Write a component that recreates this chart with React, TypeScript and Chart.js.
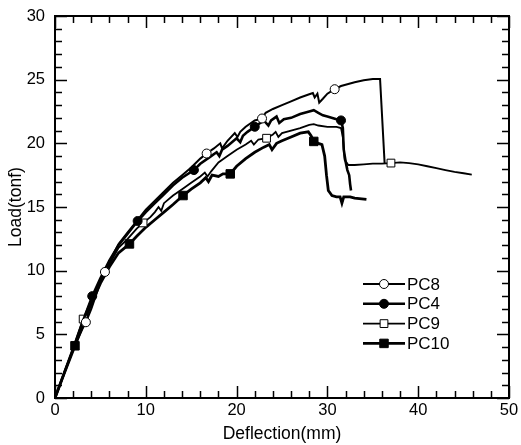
import React, { useEffect, useRef } from "react";
import { Chart, registerables } from "chart.js";

Chart.register(...registerables);

// ---- data ----
const seriesNames = ["PC8", "PC4", "PC9", "PC10"];

const pc8X = [0, 1, 2, 3, 3.4, 4, 5, 5.5, 6, 7, 8, 9, 10, 11, 12, 13, 14, 15, 16, 16.7, 17.5, 18.2, 18.4, 19, 19.8, 20.1, 20.4, 21, 22, 22.8, 23.2, 24, 25, 26, 27, 28, 28.4, 28.6, 28.9, 29.1, 29.5, 30, 30.8, 31.5, 32, 33, 34, 35, 35.8, 36.3];
const pc8Y = [0, 1.9, 3.8, 5.4, 5.95, 7, 9.1, 9.9, 10.7, 12.1, 13.0, 13.9, 14.8, 15.5, 16.2, 16.9, 17.5, 18.1, 18.8, 19.2, 19.6, 20.0, 19.6, 20.2, 20.8, 20.5, 20.9, 21.3, 21.8, 21.95, 22.4, 22.7, 23.0, 23.3, 23.6, 23.85, 23.95, 23.6, 23.9, 23.2, 23.5, 23.9, 24.25, 24.5, 24.6, 24.8, 24.95, 25.05, 25.05, 18.45];
const pc8Markers = [3.4, 5.5, 16.7, 22.8, 30.8];

const pc4X = [0, 1, 2, 3, 4.1, 5, 6, 7, 8, 9.1, 10, 11, 12, 13, 14, 15.3, 16, 17, 17.8, 18.1, 18.4, 19, 20, 20.4, 20.7, 21.2, 22, 23, 23.5, 23.8, 24.4, 24.7, 25.2, 26, 27, 28, 28.5, 29, 29.5, 30, 31, 31.5, 31.7, 31.8, 32, 32.2, 32.4, 32.5, 32.6];
const pc4Y = [0, 1.95, 3.9, 5.9, 8.0, 9.4, 10.8, 12.0, 12.9, 13.9, 14.6, 15.3, 16.0, 16.7, 17.3, 17.9, 18.4, 18.9, 19.3, 19.0, 19.5, 19.8, 20.4, 20.1, 20.6, 20.9, 21.3, 21.8, 21.4, 21.8, 22.1, 21.6, 21.9, 22.0, 22.3, 22.5, 22.6, 22.4, 22.2, 22.1, 21.9, 21.8, 21.2, 19.5, 18.6, 17.9, 17.5, 16.8, 16.3];
const pc4Markers = [4.1, 9.1, 15.3, 22, 31.5];

const pc9X = [0, 1, 2, 3.1, 4, 5, 6, 7, 8, 9, 9.7, 10.5, 11, 11.4, 11.7, 12, 13, 14, 15, 16, 16.5, 16.8, 17.2, 18, 19, 20, 21, 21.6, 21.9, 22.4, 23.3, 24, 24.3, 24.6, 25, 26, 27, 28, 28.5, 29, 30, 31, 31.5, 31.7, 31.9, 32.3, 33, 34, 35, 36, 37, 38, 39, 40, 41, 42, 43, 44, 45, 45.9];
const pc9Y = [0, 1.95, 3.9, 6.2, 7.7, 9.2, 10.5, 11.8, 12.5, 13.3, 13.75, 14.2, 14.6, 15.0, 14.7, 15.3, 15.9, 16.4, 16.9, 17.4, 17.7, 17.4, 17.8, 18.5, 19.0, 19.5, 19.9, 20.2, 19.9, 20.3, 20.4, 20.7, 20.9, 20.5, 20.8, 21.0, 21.2, 21.45, 21.5, 21.4, 21.3, 21.3, 21.2, 20.5, 18.7, 18.3, 18.3, 18.35, 18.4, 18.4, 18.45, 18.5, 18.45, 18.35, 18.2, 18.05, 17.9, 17.75, 17.65, 17.55];
const pc9Markers = [3.1, 9.7, 23.3, 37];

const pc10X = [0, 1, 2.2, 3, 4, 5, 6, 7, 8.2, 9, 10, 11, 12, 13, 14.1, 15, 16, 16.6, 16.9, 17.3, 18, 18.5, 19.3, 20, 21, 22, 23, 23.6, 23.9, 24.4, 25, 26, 27, 27.9, 28.2, 28.5, 29, 29.4, 29.7, 29.9, 30.1, 30.5, 31, 31.4, 31.6, 31.8, 32.5, 33, 34.3];
const pc10Y = [0, 1.9, 4.1, 5.6, 7.4, 9.0, 10.3, 11.4, 12.1, 12.7, 13.4, 14.0, 14.6, 15.2, 15.9, 16.4, 16.9, 17.3, 17.0, 17.5, 17.4, 17.6, 17.6, 18.2, 18.8, 19.3, 19.7, 19.9, 19.5, 20.0, 20.2, 20.5, 20.8, 20.9, 20.6, 20.15, 20.0, 19.9, 19.0, 17.5, 16.3, 15.9, 15.8, 15.8, 15.3, 15.8, 15.8, 15.7, 15.6];
const pc10Markers = [2.2, 8.2, 14.1, 19.3, 28.5];

const xTickValues = [0, 10, 20, 30, 40, 50];
const yTickValues = [0, 5, 10, 15, 20, 25, 30];
const xTitle = "Deflection(mm)";
const yTitle = "Load(tonf)";

const FONT = "'Liberation Sans', Arial, Helvetica, sans-serif";

const styles = [
  { pointStyle: "circle", fill: "#ffffff", width: 2, radius: 4.5 },
  { pointStyle: "circle", fill: "#000000", width: 2.6, radius: 4.5 },
  { pointStyle: "rect", fill: "#ffffff", width: 1.8, radius: 5.5 },
  { pointStyle: "rect", fill: "#000000", width: 2.8, radius: 6 },
];

function makeSeries(xs: number[], ys: number[]) {
  return xs.map((x, i) => ({ x, y: ys[i] }));
}

const frameTicks = {
  id: "frameTicks",
  afterDatasetsDraw(chart: any) {
    const { ctx, chartArea: a, scales } = chart;
    const x = scales.x;
    const y = scales.y;
    const MAJ = 12;
    const MIN = 7;
    ctx.save();
    ctx.strokeStyle = "#000";
    ctx.lineWidth = 1.5;
    ctx.beginPath();
    for (let i = 0; i <= 25; i++) {
      const v = i * 2;
      const px = Math.round(x.getPixelForValue(v)) + 0.5;
      const len = v % 10 === 0 ? MAJ : MIN;
      ctx.moveTo(px, a.bottom);
      ctx.lineTo(px, a.bottom - len);
      ctx.moveTo(px, a.top);
      ctx.lineTo(px, a.top + len);
    }
    for (let v = 0; v <= 30; v++) {
      const py = Math.round(y.getPixelForValue(v)) + 0.5;
      const len = v % 5 === 0 ? MAJ : MIN;
      ctx.moveTo(a.left, py);
      ctx.lineTo(a.left + len, py);
      ctx.moveTo(a.right, py);
      ctx.lineTo(a.right - len, py);
    }
    ctx.stroke();
    ctx.lineWidth = 2;
    ctx.strokeRect(a.left, a.top, a.right - a.left, a.bottom - a.top);
    ctx.restore();
  },
};

const insideLegend = {
  id: "insideLegend",
  afterDraw(chart: any) {
    const { ctx, chartArea: a } = chart;
    ctx.save();
    chart.data.datasets.forEach((ds: any, i: number) => {
      const st = styles[i];
      const yy = a.top + 268 + i * 19.8;
      const x0 = a.left + 308;
      const x1 = a.left + 350;
      const mx = (x0 + x1) / 2;
      ctx.strokeStyle = "#000";
      ctx.lineWidth = st.width;
      ctx.beginPath();
      ctx.moveTo(x0, yy);
      ctx.lineTo(x1, yy);
      ctx.stroke();
      ctx.lineWidth = 1;
      ctx.fillStyle = st.fill;
      ctx.beginPath();
      if (st.pointStyle === "circle") {
        ctx.arc(mx, yy, st.radius, 0, Math.PI * 2);
      } else {
        const s = st.radius * Math.SQRT1_2;
        ctx.rect(mx - s, yy - s, 2 * s, 2 * s);
      }
      ctx.fill();
      ctx.stroke();
      ctx.fillStyle = "#000";
      ctx.font = `17px ${FONT}`;
      ctx.textAlign = "left";
      ctx.textBaseline = "middle";
      ctx.fillText(ds.label, a.left + 352, yy + 1);
    });
    ctx.restore();
  },
};

export default function App() {
  const canvasRef = useRef<HTMLCanvasElement | null>(null);

  useEffect(() => {
    document.body.style.margin = "0";
    const canvas = canvasRef.current;
    if (!canvas) return;

    const all = [
      [pc8X, pc8Y, pc8Markers],
      [pc4X, pc4Y, pc4Markers],
      [pc9X, pc9Y, pc9Markers],
      [pc10X, pc10Y, pc10Markers],
    ] as [number[], number[], number[]][];

    const datasets = all.map(([xs, ys, marks], i) => {
      const st = styles[i];
      return {
        label: seriesNames[i],
        data: makeSeries(xs, ys),
        borderColor: "#000",
        borderWidth: st.width,
        backgroundColor: st.fill,
        pointStyle: st.pointStyle,
        pointBackgroundColor: st.fill,
        pointBorderColor: "#000",
        pointBorderWidth: 1,
        pointRadius: (c: any) => (marks.includes(xs[c.dataIndex]) ? st.radius : 0),
        pointHoverRadius: 0,
        tension: 0,
        fill: false,
      };
    });

    const chart = new Chart(canvas, {
      type: "line",
      data: { datasets },
      options: {
        responsive: false,
        animation: false,
        devicePixelRatio: 1,
        layout: { padding: { left: 0, top: 16, right: 12, bottom: 0 } },
        plugins: { legend: { display: false }, tooltip: { enabled: false } },
        scales: {
          x: {
            type: "linear",
            min: 0,
            max: 50,
            afterFit: (s: any) => {
              s.height = 47;
            },
            afterBuildTicks: (s: any) => {
              s.ticks = xTickValues.map((v) => ({ value: v }));
            },
            grid: { display: false },
            border: { display: false },
            ticks: {
              color: "#000",
              font: { family: FONT, size: 16.5 },
              padding: -5,
              maxRotation: 0,
            },
            title: {
              display: true,
              text: xTitle,
              color: "#000",
              font: { family: FONT, size: 17.5 },
              padding: { top: 2, bottom: 0 },
            },
          },
          y: {
            type: "linear",
            min: 0,
            max: 30,
            afterFit: (s: any) => {
              s.width = 55;
            },
            afterBuildTicks: (s: any) => {
              s.ticks = yTickValues.map((v) => ({ value: v }));
            },
            grid: { display: false },
            border: { display: false },
            ticks: {
              color: "#000",
              font: { family: FONT, size: 16.5 },
              padding: 2,
            },
            title: {
              display: true,
              text: yTitle,
              color: "#000",
              font: { family: FONT, size: 17.5 },
              padding: { top: 6, bottom: 0 },
            },
          },
        },
      },
      plugins: [frameTicks, insideLegend],
    } as any);

    return () => chart.destroy();
  }, []);

  return (
    <div style={{ width: 521, height: 445 }}>
      <canvas ref={canvasRef} width={521} height={445} style={{ display: "block" }} />
    </div>
  );
}
